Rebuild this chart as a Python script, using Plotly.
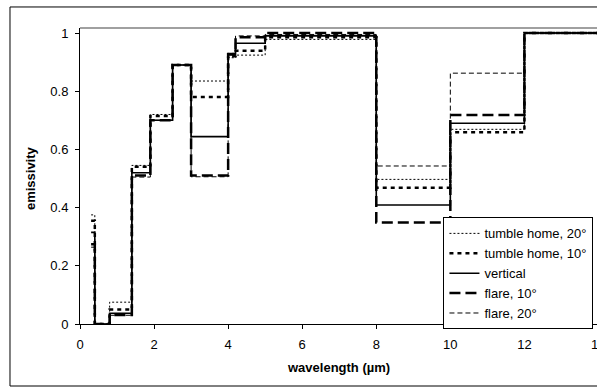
import plotly.graph_objects as go

# band edges (µm) and emissivity per band
edges = [0.3, 0.4, 0.8, 1.4, 1.9, 2.5, 3.0, 4.0, 4.2, 5.0, 8.0, 10.0, 12.0, 14.0]
tumble20 = [0.375, 0.0, 0.075, 0.545, 0.72, 0.89, 0.835, 0.915, 0.924, 0.978, 0.497, 0.669, 1.0]
tumble10 = [0.355, 0.0, 0.05, 0.54, 0.715, 0.89, 0.78, 0.92, 0.939, 0.985, 0.468, 0.659, 1.0]
vertical = [0.315, 0.0, 0.037, 0.52, 0.70, 0.89, 0.644, 0.925, 0.965, 0.99, 0.409, 0.69, 1.0]
flare10 = [0.274, 0.0, 0.031, 0.51, 0.70, 0.89, 0.51, 0.928, 0.985, 1.0, 0.349, 0.718, 1.0]
flare20 = [0.264, 0.0, 0.03, 0.505, 0.70, 0.89, 0.506, 0.93, 0.99, 0.995, 0.543, 0.862, 1.0]

series = [
    ("tumble home, 20°", tumble20, dict(color="black", width=1, dash="2px,2px")),
    ("tumble home, 10°", tumble10, dict(color="black", width=2.5, dash="4px,4px")),
    ("vertical", vertical, dict(color="black", width=1.6)),
    ("flare, 10°", flare10, dict(color="black", width=2.5, dash="11px,5px")),
    ("flare, 20°", flare20, dict(color="black", width=1, dash="5px,3px")),
]

fig = go.Figure()
for name, vals, line in series:
    fig.add_trace(go.Scatter(
        x=edges, y=vals + [vals[-1]], mode="lines", name=name,
        line=dict(shape="hv", **line), showlegend=True,
    ))

FONT = "Liberation Sans"
fig.update_layout(
    width=597, height=387,
    margin=dict(l=80, r=0, t=28, b=63),
    paper_bgcolor="white", plot_bgcolor="white",
    font=dict(family=FONT, size=13, color="black"),
    showlegend=True,
    legend=dict(
        x=0.703, y=0.36, xanchor="left", yanchor="top",
        bordercolor="black", borderwidth=1, bgcolor="white",
        font=dict(size=13, family=FONT), tracegroupgap=0,
    ),
    xaxis=dict(
        range=[0, 13.96], tickvals=[0, 2, 4, 6, 8, 10, 12],
        showgrid=False, zeroline=False, showline=True, linecolor="black",
        linewidth=1, ticks="outside", ticklen=4, tickcolor="black",
        tickfont=dict(size=13, family=FONT), ticklabelstandoff=4,
    ),
    yaxis=dict(
        range=[0, 1.0172], tickvals=[0, 0.2, 0.4, 0.6, 0.8, 1],
        ticktext=["0", "0.2", "0.4", "0.6", "0.8", "1"],
        showgrid=False, zeroline=False, showline=True, linecolor="black",
        linewidth=1, ticks="outside", ticklen=4, tickcolor="black",
        tickfont=dict(size=13, family=FONT), ticklabelstandoff=4,
    ),
    shapes=[
        dict(type="line", xref="paper", yref="paper", x0=0, x1=1, y0=1, y1=1,
             line=dict(color="#808080", width=1.5)),
        dict(type="rect", xref="paper", yref="paper", x0=-0.1354, x1=1.2,
             y0=-0.2095, y1=1.071, line=dict(color="black", width=1)),
    ],
    annotations=[
        dict(text="<b>emissivity</b>", xref="paper", yref="paper", x=-0.0967, y=0.493,
             xanchor="center", yanchor="middle",
             textangle=-90, showarrow=False, font=dict(size=13, family=FONT)),
        dict(text="<b>wavelength (µm)</b>", xref="paper", yref="paper", x=0.5, y=-0.1486,
             xanchor="center", yanchor="middle",
             showarrow=False, font=dict(size=13, family=FONT)),
        dict(text="14", xref="paper", yref="paper", x=14 / 13.96, y=0, yshift=-20.5,
             xanchor="center", yanchor="middle",
             showarrow=False, font=dict(size=13, family=FONT)),
    ],
)

fig.write_html("out.html")
